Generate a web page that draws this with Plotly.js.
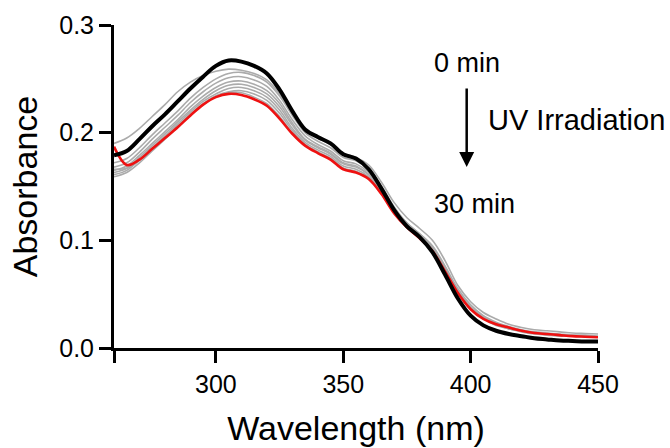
<!DOCTYPE html>
<html>
<head>
<meta charset="utf-8">
<script src="https://cdn.plot.ly/plotly-3.0.1.min.js"></script>
<style>html,body{margin:0;padding:0;background:#fff;}#chart{width:670px;height:448px;}</style>
</head>
<body>
<div id="chart"></div>
<script>
const wavelength = [260,265,270,275,280,285,290,295,300,305,310,315,320,325,330,335,340,345,350,355,360,365,370,375,380,385,390,395,400,405,410,415,420,425,430,435,440,445,450];

const abs0min = [0.179,0.183,0.194,0.206,0.217,0.229,0.241,0.252,0.262,0.267,0.266,0.262,0.255,0.240,0.220,0.203,0.196,0.190,0.180,0.176,0.166,0.148,0.128,0.113,0.103,0.089,0.068,0.046,0.030,0.021,0.016,0.013,0.011,0.009,0.008,0.007,0.0065,0.006,0.006];

const absGray1 = [0.190,0.195,0.204,0.215,0.226,0.238,0.247,0.253,0.257,0.259,0.258,0.255,0.249,0.236,0.218,0.203,0.195,0.189,0.181,0.177,0.170,0.154,0.135,0.121,0.111,0.100,0.081,0.058,0.043,0.033,0.027,0.022,0.019,0.017,0.016,0.015,0.014,0.0135,0.013];
const absGray2 = [0.172,0.176,0.186,0.198,0.209,0.220,0.232,0.242,0.250,0.255,0.256,0.253,0.247,0.234,0.216,0.200,0.192,0.186,0.177,0.174,0.166,0.150,0.131,0.116,0.106,0.094,0.075,0.053,0.038,0.028,0.022,0.018,0.016,0.014,0.013,0.012,0.011,0.011,0.010];
const absGray3 = [0.168,0.172,0.182,0.194,0.205,0.216,0.228,0.238,0.246,0.251,0.252,0.249,0.243,0.230,0.212,0.197,0.189,0.183,0.174,0.171,0.163,0.148,0.129,0.115,0.105,0.093,0.073,0.051,0.036,0.027,0.021,0.018,0.015,0.013,0.012,0.011,0.011,0.010,0.010];
const absGray4 = [0.165,0.169,0.179,0.190,0.201,0.212,0.224,0.234,0.242,0.247,0.248,0.245,0.239,0.227,0.209,0.194,0.187,0.181,0.172,0.169,0.161,0.146,0.128,0.114,0.104,0.093,0.073,0.052,0.037,0.028,0.022,0.018,0.016,0.014,0.013,0.012,0.011,0.011,0.010];
const absGray5 = [0.163,0.167,0.177,0.188,0.199,0.210,0.221,0.231,0.239,0.244,0.245,0.242,0.236,0.224,0.207,0.193,0.186,0.180,0.171,0.168,0.161,0.147,0.129,0.116,0.106,0.095,0.076,0.055,0.040,0.030,0.024,0.020,0.017,0.015,0.014,0.013,0.012,0.012,0.011];
const absGray6 = [0.161,0.165,0.175,0.186,0.197,0.208,0.219,0.229,0.236,0.241,0.242,0.239,0.233,0.221,0.204,0.191,0.184,0.178,0.169,0.166,0.159,0.145,0.128,0.115,0.105,0.093,0.074,0.053,0.038,0.029,0.023,0.019,0.016,0.014,0.013,0.012,0.011,0.011,0.010];
const absGray7 = [0.159,0.163,0.172,0.183,0.194,0.205,0.216,0.226,0.234,0.238,0.239,0.236,0.230,0.218,0.202,0.189,0.182,0.176,0.167,0.164,0.157,0.143,0.126,0.113,0.103,0.092,0.073,0.052,0.037,0.028,0.022,0.018,0.016,0.014,0.013,0.012,0.011,0.011,0.010];
const absGray8 = [0.166,0.167,0.174,0.184,0.195,0.206,0.217,0.227,0.234,0.237,0.237,0.233,0.227,0.215,0.200,0.189,0.182,0.176,0.167,0.164,0.158,0.144,0.126,0.113,0.103,0.091,0.072,0.052,0.037,0.028,0.022,0.019,0.016,0.014,0.013,0.012,0.011,0.011,0.010];

const abs30min = [0.187,0.170,0.175,0.185,0.195,0.205,0.216,0.226,0.233,0.236,0.235,0.231,0.225,0.213,0.199,0.188,0.181,0.175,0.166,0.163,0.157,0.143,0.125,0.112,0.102,0.090,0.071,0.051,0.036,0.027,0.022,0.019,0.016,0.014,0.013,0.012,0.011,0.0105,0.010];

const grays = [absGray1,absGray2,absGray3,absGray4,absGray5,absGray6,absGray7,absGray8];
const xTickVals = [260,300,350,400,450];
const xTickText = ['','300','350','400','450'];
const yTickVals = [0,0.1,0.2,0.3];

const FONT = 'Liberation Sans, Arial, sans-serif';
const traces = [];
grays.forEach(g => traces.push({x: wavelength, y: g, type: 'scatter', mode: 'lines',
  line: {color: '#ababab', width: 1.6, shape: 'spline', smoothing: 1}, hoverinfo: 'skip'}));
traces.push({x: wavelength, y: abs30min, type: 'scatter', mode: 'lines',
  line: {color: '#ee1111', width: 2.6, shape: 'spline', smoothing: 1}});
traces.push({x: wavelength, y: abs0min, type: 'scatter', mode: 'lines',
  line: {color: '#000000', width: 4, shape: 'spline', smoothing: 1}});

const layout = {
  width: 670, height: 448,
  margin: {l: 114, r: 72, t: 25, b: 100},
  paper_bgcolor: '#fff', plot_bgcolor: '#fff',
  showlegend: false,
  font: {family: FONT, color: '#000'},
  xaxis: {
    range: [260, 450], tickmode: 'array', tickvals: xTickVals, ticktext: xTickText,
    showgrid: false, zeroline: false, showline: true, linecolor: '#000', linewidth: 3,
    ticks: 'outside', ticklen: 12, tickwidth: 3, tickcolor: '#000',
    tickfont: {size: 25, family: FONT, color: '#000'},
    title: {text: 'Wavelength (nm)', font: {size: 34, family: FONT, color: '#000'}, standoff: 20}
  },
  yaxis: {
    range: [0, 0.3], tickmode: 'array', tickvals: yTickVals, tickformat: '.1f',
    showgrid: false, zeroline: false, showline: true, linecolor: '#000', linewidth: 3,
    ticks: 'outside', ticklen: 12, tickwidth: 3, tickcolor: '#000',
    tickfont: {size: 25, family: FONT, color: '#000'},
    title: {text: 'Absorbance', font: {size: 34, family: FONT, color: '#000'}, standoff: 12}
  },
  annotations: [
    {xref: 'paper', yref: 'paper', x: 0.656, y: 0.882, xanchor: 'left', yanchor: 'middle',
     text: '0 min', showarrow: false, font: {size: 27, family: FONT, color: '#000'}},
    {xref: 'paper', yref: 'paper', x: 0.768, y: 0.705, xanchor: 'left', yanchor: 'middle',
     text: 'UV Irradiation', showarrow: false, font: {size: 29, family: FONT, color: '#000'}},
    {xref: 'paper', yref: 'paper', x: 0.656, y: 0.445, xanchor: 'left', yanchor: 'middle',
     text: '30 min', showarrow: false, font: {size: 27, family: FONT, color: '#000'}},
    {xref: 'paper', yref: 'paper', x: 0.7287, y: 0.560, text: '', showarrow: true,
     ax: 0, ay: -80, arrowhead: 2, arrowsize: 1.2, arrowwidth: 2.5, arrowcolor: '#000'}
  ]
};

Plotly.newPlot('chart', traces, layout, {displayModeBar: false, staticPlot: true});
</script>
</body>
</html>
